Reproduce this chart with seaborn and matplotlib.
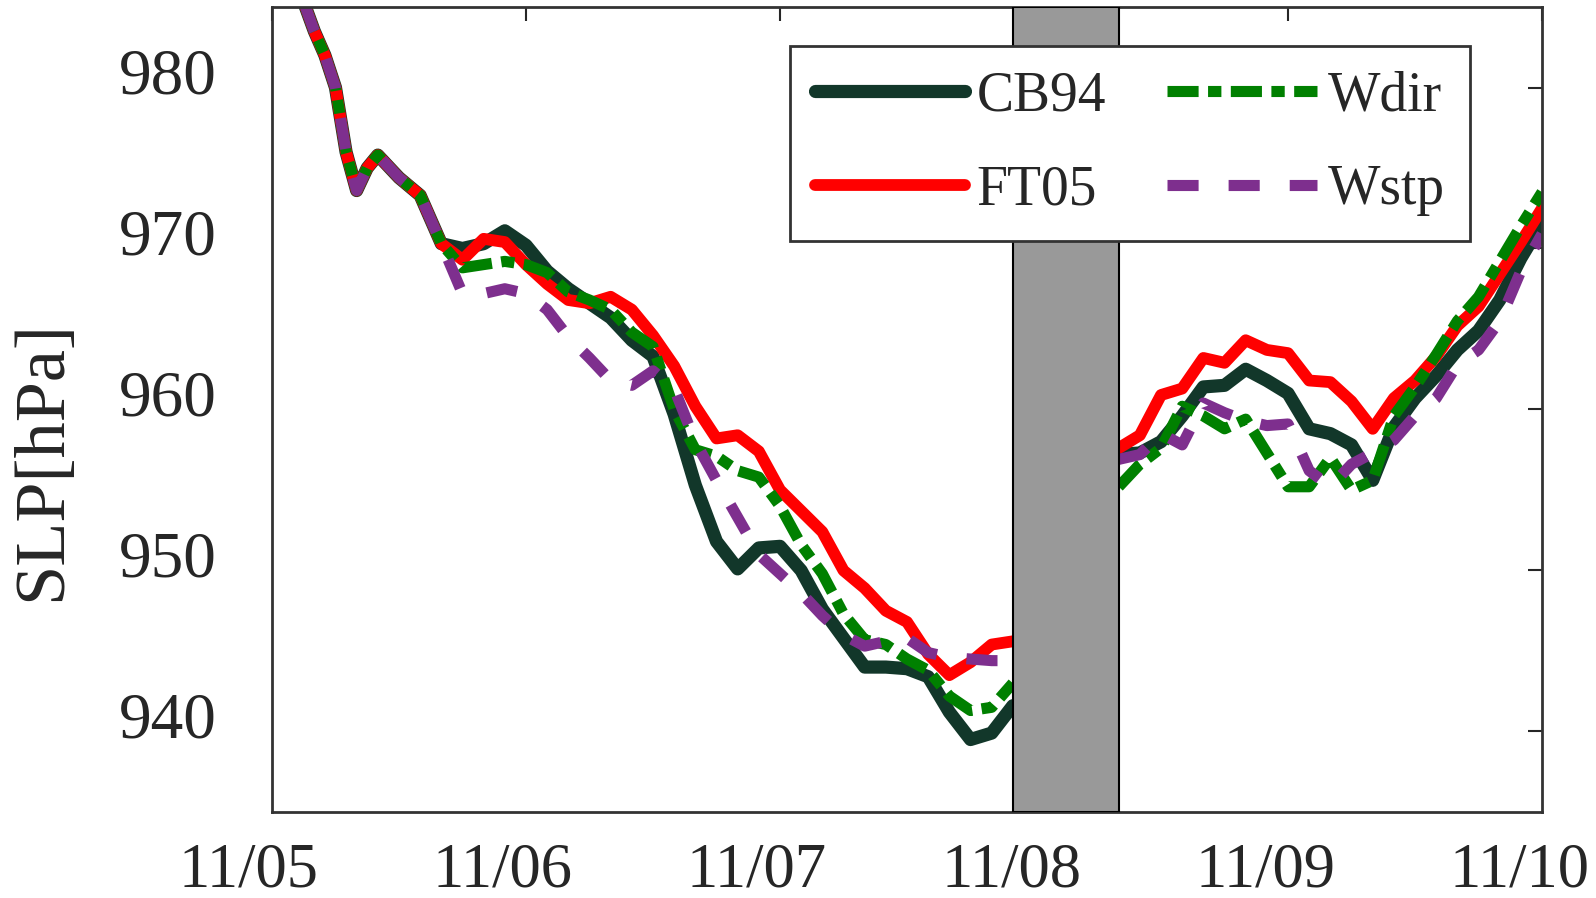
import numpy as np
import pandas as pd
import matplotlib
matplotlib.use('Agg')
import matplotlib.pyplot as plt
import matplotlib.transforms as mtransforms
import seaborn as sns

# hours since 11/05 00:00, before and after the data gap
hours_a = [3, 4, 5, 6, 7, 8, 9, 10, 12, 14, 16, 18, 20, 22, 24, 26, 28, 30, 32, 34,
           36, 38, 40, 42, 44, 46, 48, 50, 52, 54, 56, 58, 60, 62, 64, 66, 68, 70]
hours_b = [80, 82, 84, 86, 88, 90, 92, 94, 96, 98, 100, 102, 104, 106, 108, 110,
           112, 114, 116, 118, 120]

early = [985.3, 983.5, 982.0, 980.0, 976.0, 973.6, 975.0, 975.8, 974.4, 973.3, 970.3]

cb94_a = early + [970.0, 970.3, 971.1, 970.2, 968.6, 967.5, 966.6, 965.7, 964.3,
                  963.3, 959.7, 955.3, 951.8, 950.1, 951.4, 951.5, 950.0, 947.6, 945.8,
                  944.0, 944.0, 943.9, 943.4, 941.2, 939.5, 939.9, 941.6]
ft05_a = early + [969.3, 970.6, 970.4, 969.0, 967.8, 966.8, 966.6, 967.0, 966.2,
                  964.6, 962.7, 960.2, 958.2, 958.4, 957.4, 955.0, 953.7, 952.4, 950.0,
                  948.9, 947.5, 946.8, 944.8, 943.5, 944.3, 945.4, 945.6]
wdir_a = early + [968.8, 969.0, 969.2, 969.0, 968.5, 967.3, 966.8, 966.2, 964.8,
                  963.9, 960.0, 957.5, 957.1, 956.2, 955.8, 954.0, 951.6, 949.8, 947.3,
                  945.7, 945.4, 944.5, 943.8, 942.2, 941.3, 941.5, 943.0]
wstp_a = early + [967.2, 967.2, 967.5, 967.2, 966.2, 964.5, 963.2, 961.8, 961.5,
                  962.4, 961.3, 958.0, 955.6, 953.3, 951.0, 949.8, 948.6, 947.2, 946.0,
                  945.3, 945.6, 945.8, 944.9, 944.6, 944.5, 944.4, 944.4]

cb94_b = [957.2, 957.3, 958.0, 959.6, 961.4, 961.5, 962.5, 961.8, 961.0, 958.8, 958.5,
          957.8, 955.6, 958.9, 960.7, 962.1, 963.7, 964.9, 966.8, 969.4, 971.6]
ft05_b = [957.6, 958.4, 960.9, 961.3, 963.2, 962.9, 964.3, 963.7, 963.5, 961.8, 961.7,
          960.5, 958.8, 960.7, 961.8, 963.3, 965.2, 966.4, 968.4, 970.4, 972.5]
wdir_b = [955.2, 956.6, 957.6, 960.2, 959.6, 958.8, 959.4, 957.3, 955.2, 955.2, 957.0,
          955.0, 955.6, 959.6, 961.4, 963.4, 965.5, 967.0, 969.2, 971.4, 973.5]
wstp_b = [956.9, 957.2, 958.5, 957.8, 960.4, 959.8, 959.3, 959.0, 959.1, 956.2, 955.2,
          956.6, 957.3, 958.1, 959.6, 960.7, 962.8, 963.7, 965.5, 968.6, 970.9]

gap = (70, 80)
day_labels = ['11/05', '11/06', '11/07', '11/08', '11/09', '11/10']
yticks = [940, 950, 960, 970, 980]

series = [
    ('CB94', cb94_a, cb94_b, '#12372a', 9.5, '-'),
    ('FT05', ft05_a, ft05_b, '#ff0000', 8.5, '-'),
    ('Wdir', wdir_a, wdir_b, '#008000', 8.0, (0, (2.8, 0.85, 1.2, 0.85))),
    ('Wstp', wstp_a, wstp_b, '#7e2f8e', 8.0, (0, (2.8, 2.7))),
]

sns.set_theme(style='white')
plt.rcParams['font.family'] = ['Liberation Serif', 'DejaVu Serif']

fig, ax = plt.subplots(figsize=(15.96, 8.98), dpi=100)
fig.subplots_adjust(left=0.1704, right=0.9662, top=0.9922, bottom=0.0958)

for name, va, vb, col, lw, ls in series:
    df_a = pd.DataFrame({'hour': hours_a, 'slp': va})
    df_b = pd.DataFrame({'hour': hours_b, 'slp': vb})
    sns.lineplot(data=df_a, x='hour', y='slp', ax=ax, color=col, lw=lw,
                 linestyle=ls, label=name, solid_capstyle='round')
    sns.lineplot(data=df_b, x='hour', y='slp', ax=ax, color=col, lw=lw,
                 linestyle=ls, solid_capstyle='round')

ax.axvspan(gap[0], gap[1], facecolor='#999999', edgecolor='black', lw=1.5, zorder=5)

ax.set_xlim(0, 120)
ax.set_ylim(935, 985)
ax.set_xticks(np.arange(0, 121, 24))
ax.set_xticklabels(day_labels)
ax.set_yticks(yticks)
ax.set_xlabel('')
ax.set_ylabel('SLP[hPa]', fontsize=52)
ax.yaxis.set_label_coords(-0.155, 0.437)
ax.tick_params(direction='in', length=10, width=1.5, colors='#262626',
               top=True, right=True)
ax.tick_params(axis='x', labelsize=45, pad=22)
ax.tick_params(axis='y', labelsize=47, pad=40)

# the labels sit a bit off their ticks in the original
dx = mtransforms.ScaledTranslation(-0.23, 0, fig.dpi_scale_trans)
dy = mtransforms.ScaledTranslation(0, 0.17, fig.dpi_scale_trans)
for lab in ax.get_xticklabels():
    lab.set_transform(lab.get_transform() + dx)
for lab in ax.get_yticklabels():
    lab.set_transform(lab.get_transform() + dy)

for s in ax.spines.values():
    s.set_color('#333333')
    s.set_linewidth(2)

leg = ax.legend(ncol=2, loc='upper right', bbox_to_anchor=(0.9435, 0.952),
                fontsize=40, frameon=True, fancybox=False, handlelength=2.7,
                handletextpad=0.2, columnspacing=1.1, borderpad=0.45,
                labelspacing=0.75, borderaxespad=0)
leg.get_frame().set_edgecolor('#333333')
leg.get_frame().set_linewidth(2)
leg.get_frame().set_alpha(1)
leg.set_zorder(10)

fig.savefig('out.png', dpi=100)
